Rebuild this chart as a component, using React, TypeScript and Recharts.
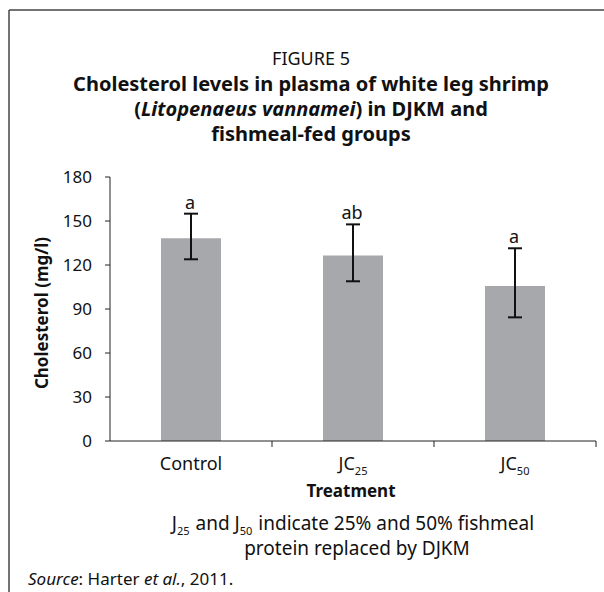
import React from "react";
import { BarChart, Bar, XAxis, YAxis, ErrorBar, LabelList } from "recharts";

const categories = ["Control", "JC", "JC"];
const categorySubs = ["", "25", "50"];
const means = [138.2, 126.4, 105.7];
const errLow = [14.3, 17.5, 21.4];
const errHigh = [16.8, 21.3, 25.7];
const letters = ["a", "ab", "a"];
const yTicks = [0, 30, 60, 90, 120, 150, 180];

const data = categories.map((c, i) => ({
  name: c + categorySubs[i],
  mean: means[i],
  err: [errLow[i], errHigh[i]],
}));

const W = 604;
const H = 592;
const FONT = "'Noto Sans', 'Open Sans', sans-serif";
const plotLeft = 110;
const plotRight = 8;
const halfBand = (W - plotLeft - plotRight) / categories.length / 2;
const plotCenter = plotLeft + (W - plotLeft - plotRight) / 2;

const XTick = (props: any) => {
  const { x, y, index } = props;
  const i = index ?? 0;
  return (
    <g>
      <line x1={x + halfBand} x2={x + halfBand} y1={y - 8} y2={y - 2} stroke="#222" />
      <text x={x} y={y + 21} textAnchor="middle" fontSize={18} fontFamily={FONT} fill="#111">
        {categories[i]}
        {categorySubs[i] ? (
          <tspan fontSize={11} dy={5}>{categorySubs[i]}</tspan>
        ) : null}
      </text>
    </g>
  );
};

const LetterLabel = (props: any) => {
  const { x, y, width, height, value, index } = props;
  const errTop = y - (errHigh[index] * height) / value;
  return (
    <text x={x + width / 2 - 1} y={errTop - 5} textAnchor="middle" fontSize={18} fontFamily={FONT} fill="#111">
      {letters[index]}
    </text>
  );
};

export default function App() {
  return (
    <div style={{ position: "absolute", left: 0, top: 0, width: W, height: H, background: "#fff" }}>
      <BarChart
        width={W}
        height={H}
        data={data}
        margin={{ top: 177, right: plotRight, bottom: 121, left: 50 }}
      >
        <XAxis
          dataKey="name"
          height={30}
          tick={<XTick />}
          tickLine={false}
          axisLine={{ stroke: "#222" }}
          interval={0}
        />
        <YAxis
          width={60}
          domain={[0, 180]}
          ticks={yTicks}
          tickSize={5}
          tickMargin={13}
          tickLine={{ stroke: "#222" }}
          axisLine={{ stroke: "#222" }}
          tick={{ fontSize: 17, fontFamily: FONT, fill: "#111" }}
        />
        <Bar dataKey="mean" fill="#a7a8ab" barSize={60} isAnimationActive={false}>
          <ErrorBar dataKey="err" width={7} strokeWidth={2} stroke="#111" direction="y" />
          <LabelList dataKey="mean" content={<LetterLabel />} />
        </Bar>
      </BarChart>
      <svg
        width={W}
        height={H}
        style={{ position: "absolute", left: 0, top: 0, pointerEvents: "none" }}
        fontFamily={FONT}
        fill="#111"
      >
        <line x1={9} y1={10} x2={W} y2={10} stroke="#444" strokeWidth={1.5} />
        <line x1={9} y1={10} x2={9} y2={H} stroke="#444" strokeWidth={1.5} />
        <text x={311} y={65} textAnchor="middle" fontSize={18}>FIGURE 5</text>
        <text x={311} y={91} textAnchor="middle" fontSize={20} fontWeight="bold">
          Cholesterol levels in plasma of white leg shrimp
        </text>
        <text x={311} y={116} textAnchor="middle" fontSize={20} fontWeight="bold">
          (<tspan fontStyle="italic">Litopenaeus vannamei</tspan>) in DJKM and
        </text>
        <text x={311} y={141} textAnchor="middle" fontSize={20} fontWeight="bold">
          fishmeal-fed groups
        </text>
        <text
          transform="translate(48, 313) rotate(-90)"
          textAnchor="middle"
          fontSize={17}
          fontWeight="bold"
        >
          Cholesterol (mg/l)
        </text>
        <text x={plotCenter - 2} y={497} textAnchor="middle" fontSize={17} fontWeight="bold">Treatment</text>
        <text x={plotCenter} y={530} textAnchor="middle" fontSize={19}>
          J<tspan fontSize={11} dy={5}>25</tspan>
          <tspan dy={-5} dx={1}> and J</tspan>
          <tspan fontSize={11} dy={5}>50</tspan>
          <tspan dy={-5} dx={1}> indicate 25% and 50% fishmeal</tspan>
        </text>
        <text x={plotCenter + 4} y={555} textAnchor="middle" fontSize={19}>protein replaced by DJKM</text>
        <text x={28} y={585} fontSize={17}>
          <tspan fontStyle="italic">Source</tspan>: Harter <tspan fontStyle="italic">et al.</tspan>, 2011.
        </text>
      </svg>
    </div>
  );
}
